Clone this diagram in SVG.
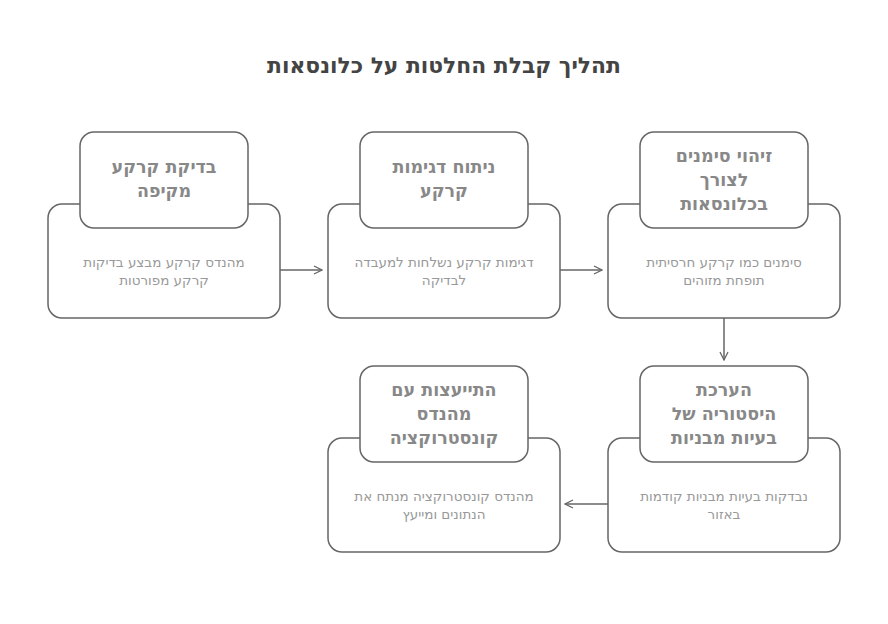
<svg xmlns="http://www.w3.org/2000/svg" width="888" height="624" viewBox="0 0 888 624">
<style>
.big{fill:#fff;stroke:#666;stroke-width:1.5}
.hd{fill:#fff;stroke:#666;stroke-width:1.5}
.ht{font-family:"DejaVu Sans",sans-serif;font-size:17.5px;font-weight:bold;fill:#888;text-anchor:middle}
.dt{font-family:"DejaVu Sans",sans-serif;font-size:13.5px;fill:#999;text-anchor:middle}
.ttl{font-family:"DejaVu Sans",sans-serif;font-size:21.8px;font-weight:bold;fill:#444;text-anchor:middle}
.c{fill:none;stroke:#666;stroke-width:1.5}
</style>
<defs>
<marker id="ah" viewBox="0 0 10 10" refX="9" refY="5" markerWidth="10" markerHeight="10" markerUnits="userSpaceOnUse" orient="auto">
<path d="M1,1 L9,5 L1,9" fill="none" stroke="#666" stroke-width="1.3"/>
</marker>
</defs>
<rect width="888" height="624" fill="#fff"/>
<text class="ttl" x="444" y="73" direction="rtl">תהליך קבלת החלטות על כלונסאות</text>
<g id="connectors">
<path class="c" d="M280,270 L322,270" marker-end="url(#ah)"/>
<path class="c" d="M560,270 L602,270" marker-end="url(#ah)"/>
<path class="c" d="M724,318 L724,360" marker-end="url(#ah)"/>
<path class="c" d="M608,504 L565,504" marker-end="url(#ah)"/>
</g>
<g id="node1">
<rect class="big" x="48" y="204" width="232" height="114" rx="14"/>
<rect class="hd" x="80" y="132" width="168" height="96" rx="14"/>
<text class="ht" x="164" y="173" direction="rtl">בדיקת קרקע</text>
<text class="ht" x="164" y="197" direction="rtl">מקיפה</text>
<text class="dt" x="164" y="267" direction="rtl">מהנדס קרקע מבצע בדיקות</text>
<text class="dt" x="164" y="285" direction="rtl">קרקע מפורטות</text>
</g>
<g id="node2">
<rect class="big" x="328" y="204" width="232" height="114" rx="14"/>
<rect class="hd" x="360" y="132" width="168" height="96" rx="14"/>
<text class="ht" x="444" y="173" direction="rtl">ניתוח דגימות</text>
<text class="ht" x="444" y="197" direction="rtl">קרקע</text>
<text class="dt" x="444" y="267" direction="rtl">דגימות קרקע נשלחות למעבדה</text>
<text class="dt" x="444" y="285" direction="rtl">לבדיקה</text>
</g>
<g id="node3">
<rect class="big" x="608" y="204" width="232" height="114" rx="14"/>
<rect class="hd" x="640" y="132" width="168" height="96" rx="14"/>
<text class="ht" x="724" y="162" direction="rtl">זיהוי סימנים</text>
<text class="ht" x="724" y="186" direction="rtl">לצורך</text>
<text class="ht" x="724" y="210" direction="rtl">בכלונסאות</text>
<text class="dt" x="724" y="267" direction="rtl">סימנים כמו קרקע חרסיתית</text>
<text class="dt" x="724" y="285" direction="rtl">תופחת מזוהים</text>
</g>
<g id="node4">
<rect class="big" x="608" y="438" width="232" height="114" rx="14"/>
<rect class="hd" x="640" y="366" width="168" height="96" rx="14"/>
<text class="ht" x="724" y="396" direction="rtl">הערכת</text>
<text class="ht" x="724" y="420" direction="rtl">היסטוריה של</text>
<text class="ht" x="724" y="444" direction="rtl">בעיות מבניות</text>
<text class="dt" x="724" y="501" direction="rtl">נבדקות בעיות מבניות קודמות</text>
<text class="dt" x="724" y="519" direction="rtl">באזור</text>
</g>
<g id="node5">
<rect class="big" x="328" y="438" width="232" height="114" rx="14"/>
<rect class="hd" x="360" y="366" width="168" height="96" rx="14"/>
<text class="ht" x="444" y="396" direction="rtl">התייעצות עם</text>
<text class="ht" x="444" y="420" direction="rtl">מהנדס</text>
<text class="ht" x="444" y="444" direction="rtl">קונסטרוקציה</text>
<text class="dt" x="444" y="501" direction="rtl">מהנדס קונסטרוקציה מנתח את</text>
<text class="dt" x="444" y="519" direction="rtl">הנתונים ומייעץ</text>
</g>
</svg>
